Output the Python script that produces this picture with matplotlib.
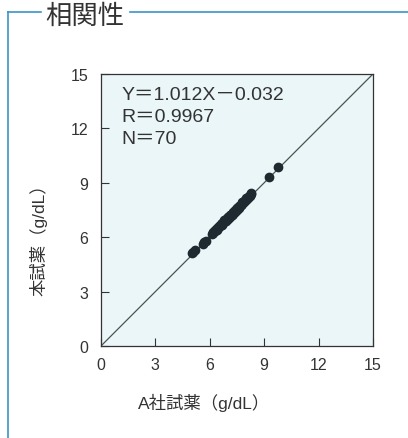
import matplotlib
matplotlib.use("Agg")
import matplotlib.pyplot as plt
from matplotlib.lines import Line2D

plt.rcParams['font.family'] = ['Liberation Sans', 'Noto Sans CJK JP']

# data
x_vals = [5.0, 5.1, 5.2, 5.6, 5.7, 5.8,
          6.1, 6.2, 6.2, 6.3, 6.3, 6.4, 6.4, 6.4, 6.5, 6.5,
          6.6, 6.6, 6.7, 6.7, 6.7, 6.8, 6.8, 6.9, 6.9, 6.9,
          7.0, 7.0, 7.0, 7.1, 7.1, 7.1, 7.2, 7.2, 7.2, 7.3,
          7.3, 7.3, 7.4, 7.4, 7.4, 7.5, 7.5, 7.5, 7.6, 7.6,
          7.6, 7.7, 7.7, 7.8, 7.8, 7.9, 7.9, 8.0, 8.0, 8.1,
          8.1, 8.2, 8.2, 8.3, 7.2, 7.5, 7.8, 6.6, 8.0, 7.0,
          8.3, 6.8, 9.25, 9.75]
y_vals = [5.15, 5.2, 5.3, 5.65, 5.75, 5.8,
          6.15, 6.25, 6.3, 6.35, 6.4, 6.45, 6.5, 6.4, 6.55, 6.6,
          6.65, 6.7, 6.75, 6.8, 6.7, 6.85, 6.9, 6.95, 7.0, 6.9,
          7.05, 7.1, 7.0, 7.15, 7.2, 7.1, 7.25, 7.3, 7.2, 7.35,
          7.4, 7.3, 7.45, 7.5, 7.4, 7.55, 7.6, 7.5, 7.65, 7.7,
          7.6, 7.75, 7.8, 7.85, 7.9, 7.95, 8.0, 8.05, 8.1, 8.15,
          8.2, 8.25, 8.35, 8.4, 7.3, 7.6, 7.95, 6.75, 8.15, 7.1,
          8.45, 6.95, 9.3, 9.85]
ticks = [0, 3, 6, 9, 12, 15]
equation = ["Y＝1.012X－0.032", "R＝0.9967", "N＝70"]

fig = plt.figure(figsize=(4.08, 4.39), dpi=100)
ax = fig.add_axes([0.2475, 0.2096, 0.6665, 0.6194])
ax.set_facecolor('#eaf6f8')

ax.plot([0, 15], [0, 15], color='#4a5450', lw=0.9, zorder=2)
ax.plot(x_vals, y_vals, 'o', color='#1e2a30', ms=6, mec='#1e2a30', zorder=3)

ax.set_xlim(0, 15)
ax.set_ylim(0, 15)
ax.set_xticks(ticks)
ax.set_yticks(ticks)
ax.tick_params(direction='in', length=6, width=0.8, colors='#333333',
               labelsize=11.5, pad=8)
ax.tick_params(axis='y', pad=9)
for s in ax.spines.values():
    s.set_color('#333333')
    s.set_linewidth(0.9)

ax.set_xlabel("A社試薬（g/dL）", fontsize=12.5, color='#333333')
ax.set_ylabel("本試薬（g/dL）", fontsize=12.5, color='#333333')
ax.xaxis.set_label_coords(0.38, -0.205)
ax.yaxis.set_label_coords(-0.23, 0.41)
ax.xaxis.label.set_va('center')
ax.yaxis.label.set_va('center')

for i, line in enumerate(equation):
    ax.text(0.075, 0.955 - i * 0.08, line, transform=ax.transAxes,
            fontsize=14, color='#333333', va='top', ha='left')

# blue frame and title
blue = '#3a95c8'
fig.add_artist(Line2D([0.020, 0.020], [0.970, 0.0], color=blue, lw=1.2,
                      transform=fig.transFigure))
fig.add_artist(Line2D([0.020, 0.100], [0.970, 0.970], color=blue, lw=1.2,
                      transform=fig.transFigure))
fig.add_artist(Line2D([0.318, 1.0], [0.970, 0.970], color=blue, lw=1.2,
                      transform=fig.transFigure))
fig.text(0.208, 0.962, "相関性", fontsize=19, color='#333333',
         ha='center', va='center')

fig.savefig("out.png", dpi=100)
